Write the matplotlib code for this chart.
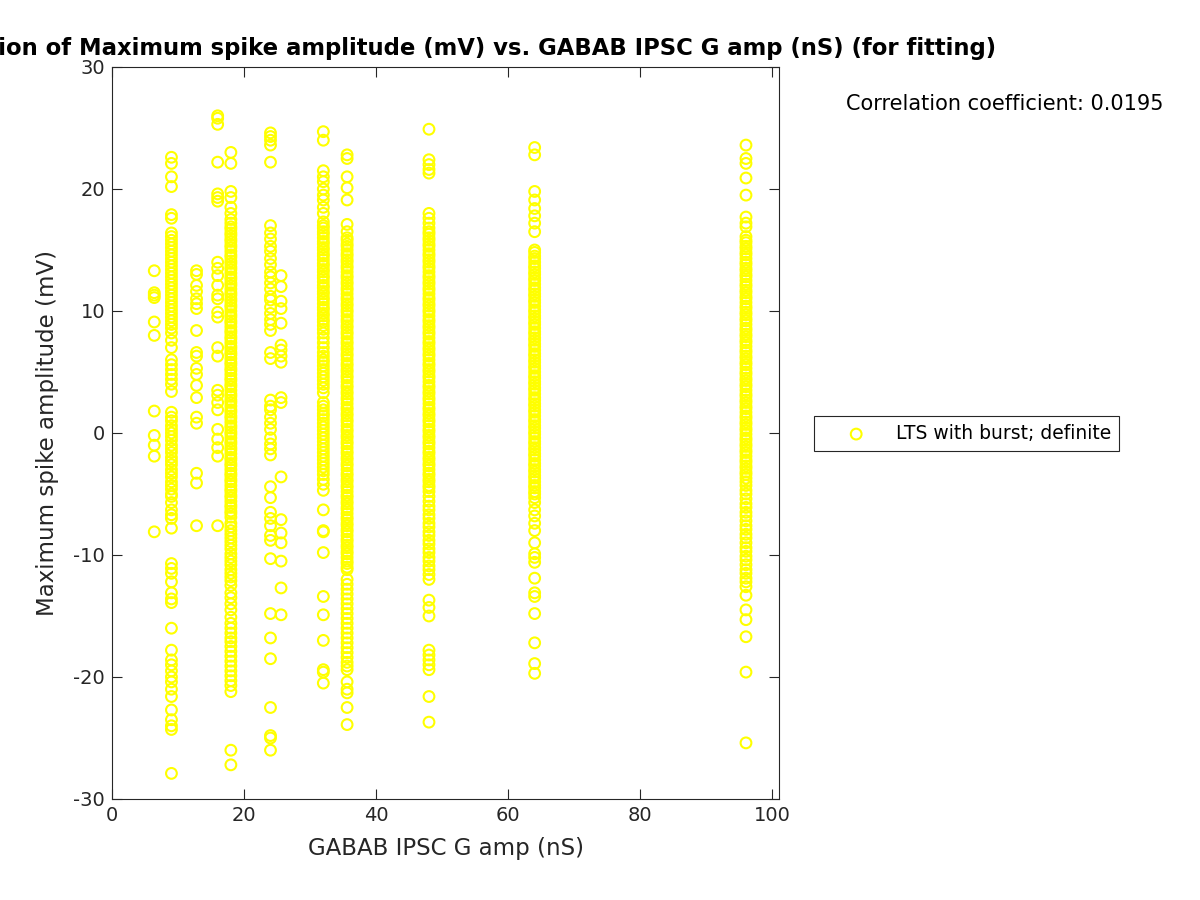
import numpy as np
import matplotlib
matplotlib.use('Agg')
import matplotlib.pyplot as plt

# GABAB IPSC G amp (nS) values used in the simulations
g_amp = [6.4, 9, 12.8, 16, 18, 24, 25.6, 32, 35.6, 48, 64, 96]

amp_6 = [13.3, 11.5, 11.3, 11.1, 9.1, 8.0, 1.8, -0.2, -1.0, -1.9, -8.1]
amp_9 = [22.6, 22.1, 21.0, 20.2, 17.9, 17.6, 16.4, 16.1, 15.8, 15.5, 15.2, 14.9, 14.6, 14.3,
         14.0, 13.7, 13.4, 13.1, 12.8, 12.5, 12.2, 11.9, 11.6, 11.3, 11.0, 10.7, 10.4, 10.1,
         9.8, 9.5, 9.2, 8.9, 8.6, 8.2, 7.6, 7.0, 6.0, 5.6, 5.2, 4.8, 4.4, 4.0, 3.4, 1.7, 1.3,
         1.0, 0.6, 0.3, 0.0, -0.3, -0.6, -1.0, -1.3, -1.6, -2.0, -2.3, -2.6, -3.0, -3.3, -3.6,
         -4.0, -4.3, -4.6, -5.0, -5.2, -5.7, -6.3, -6.7, -7.0, -7.8, -10.7, -11.1, -11.5,
         -12.2, -13.1, -13.6, -13.9, -16.0, -17.8, -18.6, -19.0, -19.5, -20.0, -20.4, -21.0,
         -21.6, -22.7, -23.5, -24.0, -24.3, -27.9]
amp_12 = [13.3, 13.0, 12.1, 11.6, 11.0, 10.6, 10.2, 8.4, 6.6, 6.3, 5.3, 4.8, 3.9, 2.9, 1.3,
          0.8, -3.3, -4.1, -7.6]
amp_16 = [26.0, 25.8, 25.3, 22.2, 19.6, 19.3, 19.0, 14.0, 13.5, 12.9, 12.1, 11.3, 11.0, 9.9,
          9.5, 7.0, 6.3, 3.5, 3.1, 2.5, 1.9, 0.3, -0.5, -1.2, -1.9, -7.6]
amp_18 = [23.0, 22.1, 19.8, 19.3, 18.5, 18.0, 17.5, 17.2, 16.9, 16.7, 16.4, 16.2, 15.9, 15.7,
          15.4, 15.2, 14.9, 14.6, 14.4, 14.1, 13.9, 13.6, 13.4, 13.1, 12.8, 12.6, 12.3, 12.1,
          11.8, 11.5, 11.3, 11.0, 10.8, 10.5, 10.3, 10.0, 9.7, 9.5, 9.2, 9.0, 8.7, 8.4, 8.2,
          7.9, 7.7, 7.4, 7.1, 6.9, 6.6, 6.4, 6.1, 5.8, 5.6, 5.3, 5.1, 4.8, 4.5, 4.3, 4.0, 3.8,
          3.5, 3.2, 3.0, 2.7, 2.5, 2.2, 1.9, 1.7, 1.4, 1.2, 0.9, 0.6, 0.4, 0.1, -0.1, -0.4,
          -0.7, -0.9, -1.2, -1.4, -1.7, -2.0, -2.2, -2.5, -2.7, -3.0, -3.3, -3.5, -3.8, -4.0,
          -4.3, -4.6, -4.8, -5.1, -5.3, -5.6, -5.9, -6.1, -6.4, -6.6, -6.9, -7.4, -7.7, -8.0,
          -8.3, -8.6, -8.9, -9.2, -9.5, -9.9, -10.2, -10.5, -10.8, -11.2, -11.5, -11.8, -12.1,
          -12.5, -13.1, -13.5, -14.0, -14.5, -15.1, -15.6, -16.0, -16.4, -16.8, -17.1, -17.5,
          -17.9, -18.3, -18.7, -19.1, -19.5, -19.9, -20.3, -20.7, -21.2, -26.0, -27.2]
amp_24 = [24.6, 24.3, 24.0, 23.6, 22.2, 17.0, 16.4, 15.9, 15.3, 14.9, 14.3, 13.8, 13.2, 12.8,
          12.3, 11.8, 11.2, 10.9, 10.3, 9.8, 9.3, 8.9, 8.4, 6.6, 6.1, 2.7, 2.2, 1.9, 1.3, 0.8,
          0.3, -0.4, -0.9, -1.3, -1.8, -4.4, -5.3, -6.5, -7.0, -7.6, -8.4, -8.8, -10.3, -14.8,
          -16.8, -18.5, -22.5, -24.8, -25.0, -26.0]
amp_25 = [12.9, 12.0, 10.8, 10.2, 9.0, 7.2, 6.8, 6.3, 5.8, 2.9, 2.5, -3.6, -7.1, -8.2, -9.0,
          -10.5, -12.7, -14.9]
amp_32 = [24.7, 24.0, 21.5, 21.0, 20.6, 20.0, 19.5, 19.1, 18.5, 18.0, 17.3, 17.0, 16.8, 16.5,
          16.3, 16.0, 15.7, 15.5, 15.2, 15.0, 14.7, 14.5, 14.2, 13.9, 13.7, 13.4, 13.2, 12.9,
          12.7, 12.4, 12.1, 11.9, 11.6, 11.4, 11.1, 10.9, 10.6, 10.3, 10.1, 9.8, 9.6, 9.3, 9.1,
          8.8, 8.5, 8.2, 7.8, 7.4, 7.0, 6.6, 6.3, 6.0, 5.8, 5.5, 5.2, 4.9, 4.6, 4.3, 4.0, 3.7,
          3.3, 2.5, 2.2, 1.9, 1.6, 1.4, 1.1, 0.8, 0.5, 0.2, -0.1, -0.4, -0.7, -1.0, -1.3, -1.6,
          -1.9, -2.2, -2.5, -2.8, -3.1, -3.4, -3.8, -4.2, -4.7, -6.3, -8.0, -8.1, -9.8, -13.4,
          -14.9, -17.0, -19.4, -19.6, -20.5]
amp_35 = [22.8, 22.5, 21.0, 20.1, 19.1, 17.1, 16.5, 16.0, 15.8, 15.5, 15.3, 15.0, 14.7, 14.5,
          14.2, 14.0, 13.7, 13.5, 13.2, 12.9, 12.7, 12.4, 12.2, 11.9, 11.7, 11.4, 11.1, 10.9,
          10.6, 10.4, 10.1, 9.9, 9.6, 9.3, 9.1, 8.8, 8.6, 8.3, 8.1, 7.8, 7.5, 7.3, 7.0, 6.8,
          6.5, 6.3, 6.0, 5.7, 5.5, 5.2, 5.0, 4.7, 4.5, 4.2, 3.9, 3.7, 3.4, 3.2, 2.9, 2.7, 2.4,
          2.1, 1.9, 1.6, 1.4, 1.1, 0.9, 0.6, 0.3, 0.1, -0.2, -0.4, -0.7, -0.9, -1.2, -1.5,
          -1.7, -2.0, -2.2, -2.5, -2.7, -3.0, -3.3, -3.5, -3.8, -4.0, -4.3, -4.5, -4.8, -5.1,
          -5.3, -5.6, -5.8, -6.1, -6.3, -6.6, -6.9, -7.1, -7.4, -7.6, -7.9, -8.1, -8.4, -8.7,
          -8.9, -9.2, -9.4, -9.7, -9.9, -10.2, -10.5, -10.7, -11.0, -11.2, -12.0, -12.4, -12.8,
          -13.2, -13.6, -14.0, -14.4, -14.8, -15.2, -15.6, -16.0, -16.4, -16.8, -17.2, -17.6,
          -18.0, -18.4, -18.8, -19.1, -19.4, -20.4, -21.0, -21.3, -22.5, -23.9]
amp_48 = [24.9, 22.4, 22.0, 21.6, 21.3, 18.0, 17.6, 17.2, 16.8, 16.5, 16.3, 16.0, 15.8, 15.5,
          15.3, 15.0, 14.7, 14.5, 14.2, 14.0, 13.7, 13.5, 13.2, 12.9, 12.7, 12.4, 12.2, 11.9,
          11.7, 11.4, 11.1, 10.9, 10.6, 10.4, 10.1, 9.9, 9.6, 9.3, 9.1, 8.8, 8.6, 8.3, 8.1, 7.8,
          7.5, 7.3, 7.0, 6.8, 6.5, 6.3, 6.0, 5.7, 5.5, 5.2, 5.0, 4.7, 4.5, 4.2, 3.9, 3.7, 3.4,
          3.2, 2.9, 2.7, 2.4, 2.1, 1.9, 1.6, 1.4, 1.1, 0.9, 0.6, 0.3, 0.1, -0.2, -0.4, -0.7,
          -0.9, -1.2, -1.5, -1.7, -2.0, -2.2, -2.5, -2.7, -3.0, -3.3, -3.5, -3.8, -4.0, -4.3,
          -4.5, -4.8, -5.2, -5.6, -6.0, -6.3, -6.7, -7.0, -7.4, -7.7, -8.1, -8.4, -8.8, -9.1,
          -9.5, -9.8, -10.2, -10.5, -10.9, -11.2, -11.6, -12.0, -13.7, -14.3, -15.0, -17.8,
          -18.2, -18.6, -19.0, -19.4, -21.6, -23.7]
amp_64 = [23.4, 22.8, 19.8, 19.1, 18.4, 17.8, 17.2, 16.5, 15.0, 14.8, 14.5, 14.3, 14.0, 13.7,
          13.5, 13.2, 13.0, 12.7, 12.5, 12.2, 11.9, 11.7, 11.4, 11.2, 10.9, 10.7, 10.4, 10.1,
          9.9, 9.6, 9.4, 9.1, 8.9, 8.6, 8.3, 8.1, 7.8, 7.6, 7.3, 7.1, 6.8, 6.5, 6.3, 6.0, 5.8,
          5.5, 5.3, 5.0, 4.7, 4.5, 4.2, 4.0, 3.7, 3.5, 3.2, 2.9, 2.7, 2.4, 2.2, 1.9, 1.7, 1.4,
          1.1, 0.9, 0.6, 0.4, 0.1, -0.1, -0.4, -0.7, -0.9, -1.2, -1.4, -1.7, -1.9, -2.2, -2.5,
          -2.7, -3.0, -3.2, -3.5, -3.7, -4.0, -4.3, -4.5, -4.8, -5.0, -5.3, -5.7, -6.3, -6.8,
          -7.4, -8.0, -9.0, -9.9, -10.2, -10.6, -11.9, -13.1, -13.4, -14.8, -17.2, -18.9, -19.7]
amp_96 = [23.6, 22.5, 22.1, 20.9, 19.5, 17.7, 17.2, 16.9, 16.1, 15.8, 15.6, 15.3, 15.1, 14.8,
          14.6, 14.3, 14.0, 13.8, 13.5, 13.3, 13.0, 12.8, 12.5, 12.2, 12.0, 11.7, 11.5, 11.2,
          11.0, 10.7, 10.4, 10.2, 9.9, 9.7, 9.4, 9.2, 8.9, 8.6, 8.4, 8.1, 7.9, 7.6, 7.4, 7.1,
          6.8, 6.6, 6.3, 6.1, 5.8, 5.6, 5.3, 5.0, 4.8, 4.5, 4.3, 4.0, 3.8, 3.5, 3.2, 3.0, 2.7,
          2.5, 2.2, 2.0, 1.7, 1.4, 1.2, 0.9, 0.7, 0.4, 0.2, -0.1, -0.4, -0.6, -0.9, -1.1, -1.4,
          -1.6, -1.9, -2.2, -2.4, -2.7, -2.9, -3.2, -3.4, -3.7, -4.0, -4.3, -4.7, -5.0, -5.4,
          -5.8, -6.1, -6.5, -6.8, -7.2, -7.6, -7.9, -8.3, -8.6, -9.0, -9.4, -9.7, -10.1, -10.4,
          -10.8, -11.2, -11.5, -11.9, -12.2, -12.6, -13.3, -14.5, -15.3, -16.7, -19.6, -25.4]

amp_cols = [amp_6, amp_9, amp_12, amp_16, amp_18, amp_24, amp_25, amp_32, amp_35,
            amp_48, amp_64, amp_96]
corr_coef = 0.0195

x = np.concatenate([np.full(len(a), g) for g, a in zip(g_amp, amp_cols)])
y = np.concatenate([np.array(a) for a in amp_cols])

dark = '#262626'
plt.rcParams['font.family'] = 'DejaVu Sans'
plt.rcParams['axes.unicode_minus'] = False

fig = plt.figure(figsize=(12, 9), dpi=100)
ax = fig.add_axes([112/1200, 1 - 799/900, 667/1200, 732/900])

ax.scatter(x, y, s=60, facecolors='none', edgecolors='#ffff00', linewidths=1.5,
           label='LTS with burst; definite', zorder=3)

ax.set_xlim(0, 101)
ax.set_ylim(-30, 30)
ax.set_xticks([0, 20, 40, 60, 80, 100])
ax.set_yticks([-30, -20, -10, 0, 10, 20, 30])
ax.tick_params(direction='in', top=True, right=True, length=7, width=0.8,
               labelsize=14, colors=dark, pad=5)
for sp in ax.spines.values():
    sp.set_color(dark)
    sp.set_linewidth(0.8)

ax.set_xlabel('GABAB IPSC G amp (nS)', fontsize=16.5, color=dark, labelpad=9)
ax.set_ylabel('Maximum spike amplitude (mV)', fontsize=16.5, color=dark, labelpad=10)
ax.set_title('Correlation of Maximum spike amplitude (mV) vs. GABAB IPSC G amp (nS) (for fitting)',
             fontsize=16.4, fontweight='bold', pad=9)

fig.text(846/1200, 1 - 104/900, 'Correlation coefficient: %.4f' % corr_coef,
         fontsize=15, ha='left', va='center', color='black')

leg = ax.legend(loc='center left', bbox_to_anchor=(814/1200, 1 - 433.5/900),
                bbox_transform=fig.transFigure, fontsize=13.5, fancybox=False,
                framealpha=1, edgecolor=dark, borderpad=0.45, handlelength=3.6,
                handletextpad=0.3, borderaxespad=0)
leg.get_frame().set_linewidth(0.8)

fig.savefig('out.png', dpi=100)
